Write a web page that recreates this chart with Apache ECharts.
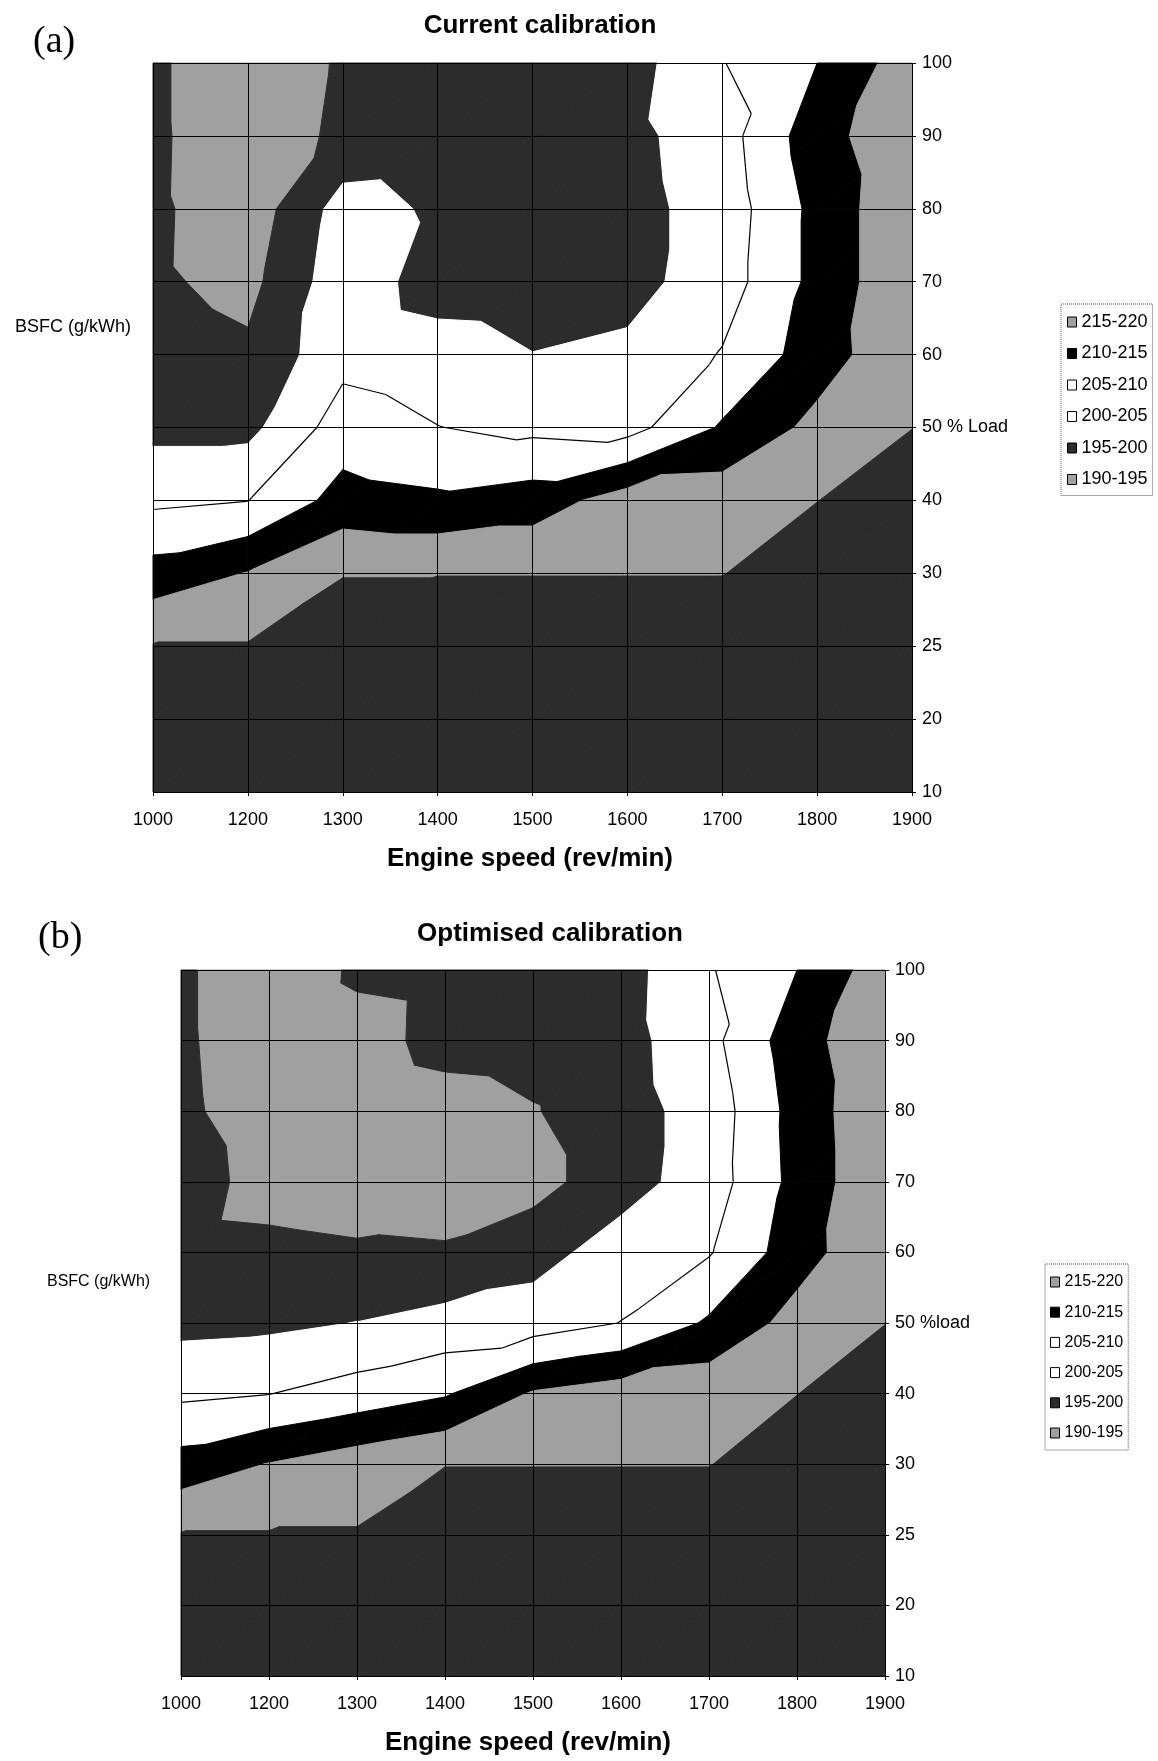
<!DOCTYPE html>
<html><head><meta charset="utf-8">
<script src="https://cdn.jsdelivr.net/npm/echarts@6/dist/echarts.min.js"></script>
<style>
html,body{margin:0;padding:0;background:#fff;}
#a{position:absolute;left:0;top:0;width:1158px;height:880px;}
#b{position:absolute;left:0;top:880px;width:1158px;height:881px;}
</style></head><body>
<div id="a"></div><div id="b"></div>
<script>
// ---------- data ----------
const speeds = ['1000','1200','1300','1400','1500','1600','1700','1800','1900'];
const loads  = ['10','20','25','30','40','50','60','70','80','90','100'];

const bandNames  = ['190-195','195-200','200-205','205-210','210-215','215-220','220+'];
const bandLows   = [180, 195, 200, 205, 210, 215, 220];
const bandHighs  = [195, 200, 205, 210, 215, 220, 260];
const bandColors = ['#a0a0a0','#2c2c2c','#ffffff','#ffffff','#000000','#a0a0a0','#2c2c2c'];
const legendOrder = ['215-220','210-215','205-210','200-205','195-200','190-195'];
const contourLevel = 205;

// BSFC (g/kWh); rows = load 10% (first) ... 100% (last); columns = speeds
const bsfcCurrent = [
  [240, 238, 236, 235, 235, 235, 235, 235, 235],
  [230, 229, 228, 228, 228, 228, 228, 228, 230],
  [220.3, 220.3, 223, 225, 225, 225, 225, 226, 230],
  [212, 215.2, 219.8, 219.8, 219.8, 219.8, 219.8, 224, 228],
  [204, 204.9, 211.9, 210.9, 212.4, 217.4, 217.8, 219.9, 224],
  [198.6, 198.6, 207.4, 205.1, 203.8, 203.1, 210.6, 216.4, 219.9],
  [197.5, 195.9, 203.4, 202.1, 200.1, 201, 205.3, 212.6, 219],
  [195.8, 193.5, 203, 197.8, 197.5, 198.3, 202.6, 211.5, 219.3],
  [195.9, 192, 202, 199.3, 198, 198.3, 202.1, 211.5, 219.3],
  [196, 191, 196.3, 197, 197, 198.6, 202.8, 213, 218.9],
  [196, 190.7, 195.7, 196.5, 197, 197.8, 204.8, 210, 217.8]
];
const bsfcOptimised = [
  [240, 238, 236, 235, 235, 235, 235, 235, 235],
  [230, 229, 228, 228, 228, 228, 228, 228, 230],
  [220.3, 220.3, 220.3, 225, 225, 225, 225, 226, 230],
  [212, 215.2, 217.7, 219.8, 219.8, 219.8, 219.8, 224, 228],
  [204, 204.9, 207.1, 209.5, 215.5, 217.5, 218.3, 219.9, 224],
  [198.6, 199.0, 200.1, 201.7, 202.5, 205.1, 210.7, 216.9, 219.9],
  [197.5, 196.9, 196.0, 195.6, 198.1, 202.3, 204.6, 212.8, 219.2],
  [198.7, 192, 191, 192, 193.2, 197.9, 202.5, 211.6, 219.3],
  [196.3, 191.5, 192, 193, 194.7, 197.9, 202.1, 211.9, 219.3],
  [196, 191, 193, 196.6, 197, 198.1, 203.5, 212.9, 219],
  [196, 190.7, 195.9, 196.5, 197, 197.9, 204.6, 210, 217.8]
];

// ---------- helpers ----------
const SANS = "'Liberation Sans', Arial, sans-serif";
const SERIF = "'Liberation Serif', 'Times New Roman', serif";

function makeCells(grid) {
  const cells = [];
  for (let j = 0; j < loads.length - 1; j++)
    for (let i = 0; i < speeds.length - 1; i++)
      cells.push([i, j, grid[j][i], grid[j][i + 1], grid[j + 1][i], grid[j + 1][i + 1]]);
  return cells;
}
function triangles(api, c) {
  const i = c[0], j = c[1];
  const p00 = api.coord([i, j]), p10 = api.coord([i + 1, j]);
  const p01 = api.coord([i, j + 1]), p11 = api.coord([i + 1, j + 1]);
  const a = [p00[0], p00[1], c[2]], b = [p10[0], p10[1], c[3]];
  const d = [p01[0], p01[1], c[4]], e = [p11[0], p11[1], c[5]];
  return [[a, b, e], [a, e, d]];
}
function clip(poly, level, above) {
  const out = [];
  for (let k = 0; k < poly.length; k++) {
    const a = poly[k], b = poly[(k + 1) % poly.length];
    const ina = above ? a[2] >= level : a[2] <= level;
    const inb = above ? b[2] >= level : b[2] <= level;
    if (ina) out.push(a);
    if (ina !== inb) {
      const t = (level - a[2]) / (b[2] - a[2]);
      out.push([a[0] + t * (b[0] - a[0]), a[1] + t * (b[1] - a[1]), level]);
    }
  }
  return out;
}
function bandSeries(cells, k) {
  const col = bandColors[k];
  return {
    type: 'custom', name: bandNames[k], coordinateSystem: 'cartesian2d',
    data: cells, encode: { x: 0, y: 1 }, silent: true, z: 2,
    itemStyle: { color: col },
    renderItem: function (params, api) {
      const c = cells[params.dataIndex];
      const children = [];
      triangles(api, c).forEach(function (tri) {
        let poly = clip(tri, bandLows[k], true);
        if (poly.length >= 3) poly = clip(poly, bandHighs[k], false);
        if (poly.length >= 3) {
          children.push({
            type: 'polygon', shape: { points: poly.map(function (p) { return [p[0], p[1]]; }) },
            style: { fill: col, stroke: col, lineWidth: 1 }
          });
        }
      });
      return { type: 'group', children: children };
    }
  };
}
function contourSeries(cells) {
  return {
    type: 'custom', name: 'contour', coordinateSystem: 'cartesian2d',
    data: cells, encode: { x: 0, y: 1 }, silent: true, z: 3,
    renderItem: function (params, api) {
      const c = cells[params.dataIndex];
      const children = [];
      triangles(api, c).forEach(function (tri) {
        const pts = [];
        for (let k = 0; k < 3; k++) {
          const a = tri[k], b = tri[(k + 1) % 3];
          if ((a[2] - contourLevel) * (b[2] - contourLevel) < 0) {
            const t = (contourLevel - a[2]) / (b[2] - a[2]);
            pts.push([a[0] + t * (b[0] - a[0]), a[1] + t * (b[1] - a[1])]);
          }
        }
        if (pts.length === 2) {
          children.push({ type: 'line', shape: { x1: pts[0][0], y1: pts[0][1], x2: pts[1][0], y2: pts[1][1] },
            style: { stroke: '#000', lineWidth: 1.2 } });
        }
      });
      return { type: 'group', children: children };
    }
  };
}

function buildOption(cfg) {
  const cells = makeCells(cfg.grid);
  const series = bandNames.map(function (n, k) { return bandSeries(cells, k); });
  series.push(contourSeries(cells));
  return {
    animation: false,
    backgroundColor: '#fff',
    grid: { left: cfg.left, top: cfg.top, width: cfg.width, height: cfg.height, outerBoundsMode: 'none', containLabel: false },
    xAxis: {
      type: 'category', data: speeds, boundaryGap: false, z: 10,
      axisLine: { show: false },
      axisTick: { show: true, length: 4, interval: 0, lineStyle: { color: '#000', width: 1 } },
      axisLabel: { interval: 0, margin: 19, color: '#000', fontSize: 18, fontFamily: SANS },
      splitLine: { show: true, interval: 0, lineStyle: { color: '#000', width: 1 } }
    },
    yAxis: {
      type: 'category', data: loads, boundaryGap: false, position: 'right', z: 10,
      axisLine: { show: false },
      axisTick: { show: true, length: 4, interval: 0, lineStyle: { color: '#000', width: 1 } },
      axisLabel: { interval: 0, margin: 10, color: '#000', fontSize: 18, fontFamily: SANS,
        formatter: function (v) { return v === '50' ? '50 ' + cfg.loadLabel : v; } },
      splitLine: { show: true, interval: 0, lineStyle: { color: '#000', width: 1 } }
    },
    legend: {
      orient: 'vertical', left: cfg.legLeft, top: cfg.legTop, icon: 'rect',
      itemWidth: 9, itemHeight: 10, itemGap: cfg.legGap, selectedMode: false,
      padding: cfg.legPad, borderColor: '#555', borderWidth: 1, borderType: 'dotted',
      textStyle: { color: '#000', fontSize: cfg.legFont, fontFamily: SANS },
      data: legendOrder.map(function (n) { return { name: n, itemStyle: { borderColor: '#000', borderWidth: 1 } }; })
    },
    graphic: [
      { type: 'text', x: cfg.tagX, y: cfg.tagY, style: { text: cfg.tag, font: '38px ' + SERIF, fill: '#000', verticalAlign: 'middle' } },
      { type: 'text', x: cfg.titleX, y: cfg.titleY, style: { text: cfg.title, font: 'bold 26px ' + SANS, fill: '#000', align: 'center', verticalAlign: 'middle' } },
      { type: 'text', x: cfg.xNameX, y: cfg.xNameY, style: { text: 'Engine speed (rev/min)', font: 'bold 26px ' + SANS, fill: '#000', align: 'center', verticalAlign: 'middle' } },
      { type: 'text', x: cfg.bsfcX, y: cfg.bsfcY, style: { text: 'BSFC (g/kWh)', font: cfg.bsfcFont + 'px ' + SANS, fill: '#000', verticalAlign: 'middle' } }
    ],
    series: series
  };
}

const chartA = echarts.init(document.getElementById('a'));
chartA.setOption(buildOption({
  grid: bsfcCurrent, left: 153, top: 63, width: 759, height: 729,
  loadLabel: '% Load', legLeft: 1061, legTop: 304, legGap: 13.5, legFont: 18, legPad: [9, 5, 7, 6],
  tag: '(a)', tagX: 33, tagY: 42, title: 'Current calibration', titleX: 540, titleY: 26,
  xNameX: 530, xNameY: 859, bsfcX: 15, bsfcY: 327, bsfcFont: 18
}));
const chartB = echarts.init(document.getElementById('b'));
chartB.setOption(buildOption({
  grid: bsfcOptimised, left: 181, top: 90, width: 704, height: 706,
  loadLabel: '%load', legLeft: 1045, legTop: 384, legGap: 14.2, legFont: 16, legPad: [10, 5, 9, 5],
  tag: '(b)', tagX: 38, tagY: 58, title: 'Optimised calibration', titleX: 550, titleY: 54,
  xNameX: 528, xNameY: 863, bsfcX: 47, bsfcY: 402, bsfcFont: 16
}));
</script>
</body></html>
